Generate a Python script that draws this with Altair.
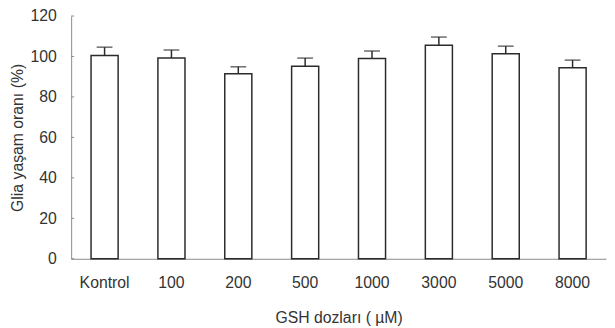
import altair as alt
import pandas as pd

categories = ["Kontrol", "100", "200", "500", "1000", "3000", "5000", "8000"]
values = [100.5, 99.2, 91.5, 95.2, 99.0, 105.6, 101.3, 94.4]
errors = [4.1, 4.0, 3.4, 4.0, 3.7, 4.0, 3.8, 3.8]
y_ticks = [0, 20, 40, 60, 80, 100, 120]

df = pd.DataFrame({"dose": categories, "value": values, "err": errors})
df["upper"] = df["value"] + df["err"]
ticks_df = pd.DataFrame({"t": y_ticks})

FONT = "Liberation Sans"
TXT = "#333333"

x_enc = alt.X(
    "dose:N",
    sort=categories,
    scale=alt.Scale(paddingInner=0.595, paddingOuter=0.2975),
    axis=alt.Axis(
        title="GSH dozları ( µM)",
        labelAngle=0,
        ticks=False,
        tickSize=0,
        labelPadding=16,
        titlePadding=20,
        domainColor="#8a8a8a",
        domainWidth=1,
    ),
)
y_scale = alt.Scale(domain=[0, 120], nice=False, zero=True)

bars = alt.Chart(df).mark_bar(
    fill="white", stroke="#2b2b2b", strokeWidth=1.5
).encode(
    x=x_enc,
    y=alt.Y(
        "value:Q",
        scale=y_scale,
        axis=alt.Axis(
            title="Glia yaşam oranı (%)",
            values=y_ticks,
            ticks=False,
            tickSize=0,
            labelPadding=15,
            titlePadding=5,
            domainColor="#8a8a8a",
            domainWidth=1,
            grid=False,
        ),
    ),
)

err_rule = alt.Chart(df).mark_rule(color="#2b2b2b", strokeWidth=1.5).encode(
    x=alt.X("dose:N", sort=categories),
    y=alt.Y("value:Q", scale=y_scale),
    y2="upper:Q",
)

caps = alt.Chart(df).mark_tick(
    color="#2b2b2b", thickness=1.5, size=16, orient="horizontal"
).encode(
    x=alt.X("dose:N", sort=categories),
    y=alt.Y("upper:Q", scale=y_scale),
)

inner_ticks = alt.Chart(ticks_df).mark_rule(color="#8a8a8a", strokeWidth=1).encode(
    y=alt.Y("t:Q", scale=y_scale),
    x=alt.value(0),
    x2=alt.value(3),
)

chart = (
    alt.layer(bars, err_rule, caps, inner_ticks)
    .properties(
        width=542,
        height=246,
        autosize=alt.AutoSizeParams(type="none"),
        padding={"left": 64, "top": 6, "right": 1, "bottom": 66},
    )
    .configure_view(stroke=None)
    .configure_axis(
        labelFont=FONT,
        titleFont=FONT,
        labelFontSize=16,
        titleFontSize=16,
        labelColor=TXT,
        titleColor=TXT,
        titleFontWeight="normal",
    )
)

chart.save("out.html", embed_options={"renderer": "svg", "actions": False})
